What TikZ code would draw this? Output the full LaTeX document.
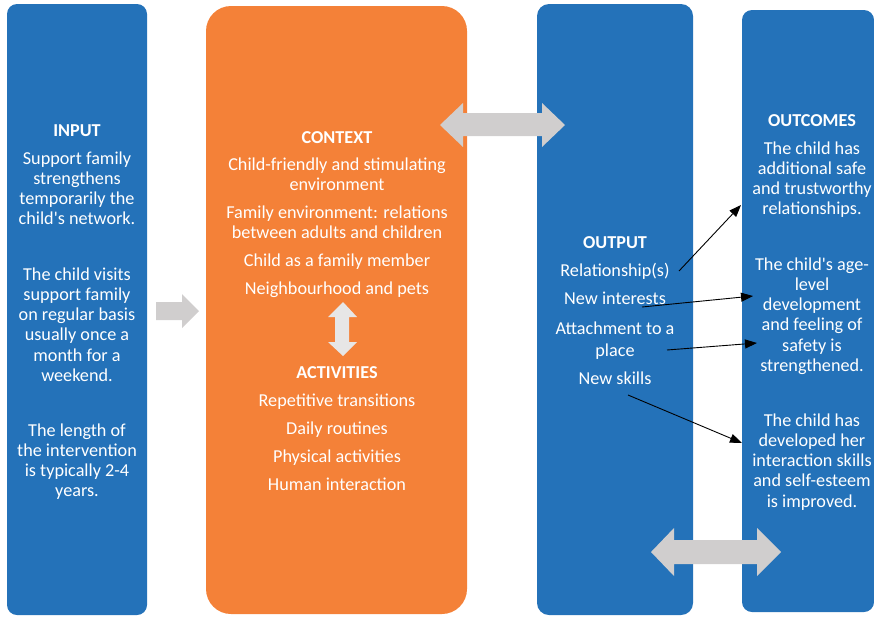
\documentclass[tikz,border=0pt]{standalone}
\usepackage{fontspec}
\setmainfont{Carlito}
\usetikzlibrary{arrows.meta}
\definecolor{boxblue}{RGB}{36,114,185}
\definecolor{boxorange}{RGB}{244,129,56}
\definecolor{arrgray}{RGB}{208,206,206}
\definecolor{arrlight}{RGB}{231,230,230}
\tikzset{
  panel/.style={inner sep=0pt, outer sep=0pt, draw=none},
  txt/.style={text=white, align=center, inner sep=0pt, anchor=north,
    font=\fontsize{18.2}{20.2}\selectfont},
  head/.style={txt, font=\fontsize{18.2}{20.2}\selectfont\bfseries},
  link/.style={draw=black, line width=0.9pt, -{Triangle[length=12pt,width=9pt]}}
}
\newcommand{\bl}[1]{\strut#1}
\newcommand{\ap}{\textquotesingle}
\begin{document}
\begin{tikzpicture}[x=1pt,y=-1pt]
\useasboundingbox (0,0) rectangle (874,616);
\clip (0,0) rectangle (874,616);
% panels
\node[panel, fill=boxblue, rounded corners=10pt, minimum width=140pt, minimum height=611pt] (input) at (77,309.5) {};
\node[panel, fill=boxorange, rounded corners=25pt, minimum width=261pt, minimum height=608pt] (context) at (336.5,310) {};
\node[panel, fill=boxblue, rounded corners=12pt, minimum width=156pt, minimum height=611pt] (output) at (615,309.5) {};
\node[panel, fill=boxblue, rounded corners=10pt, minimum width=132pt, minimum height=602pt] (outcomes) at (808,311) {};
% gray block arrows
\fill[arrgray] (156,302) -- (182,302) -- (182,294) -- (199,311) -- (182,328) -- (182,320) -- (156,320) -- cycle;
\fill[arrlight] (343,302) -- (357,317) -- (349,317) -- (349,342) -- (357,342) -- (343,356) -- (328,342) -- (335,342) -- (335,317) -- (328,317) -- cycle;
\fill[arrgray] (440,125) -- (463,103) -- (463,113) -- (542,113) -- (542,103) -- (565,125) -- (542,147) -- (542,136) -- (463,136) -- (463,147) -- cycle;
\fill[arrgray] (651,552) -- (674,528) -- (674,540) -- (757,540) -- (757,528) -- (781,552) -- (757,576) -- (757,564) -- (674,564) -- (674,576) -- cycle;
% INPUT texts
\node[head] (inh) at (77,122) {\bl{INPUT}};
\node[txt] (in1) at (77,150) {\bl{Support family}\\strengthens\\temporarily the\\child\ap s network.};
\node[txt] (in2) at (77,266) {\bl{The child visits}\\support family\\on regular basis\\usually once a\\month for a\\weekend.};
\node[txt] (in3) at (77,422) {\bl{The length of}\\the intervention\\is typically 2-4\\years.};
% CONTEXT texts
\node[head] (ch) at (337,129) {\bl{CONTEXT}};
\node[txt] (c1) at (337,156) {\bl{Child-friendly and stimulating}\\environment};
\node[txt] (c2) at (337,204) {\bl{Family environment: relations}\\between adults and children};
\node[txt] (c3) at (337,252) {\bl{Child as a family member}};
\node[txt] (c4) at (337,280) {\bl{Neighbourhood and pets}};
\node[head] (ah) at (337,364) {\bl{ACTIVITIES}};
\node[txt] (a1) at (337,392) {\bl{Repetitive transitions}};
\node[txt] (a2) at (337,420) {\bl{Daily routines}};
\node[txt] (a3) at (337,448) {\bl{Physical activities}};
\node[txt] (a4) at (337,476) {\bl{Human interaction}};
% OUTPUT texts
\node[head] (oh) at (615,234) {\bl{OUTPUT}};
\node[txt] (o1) at (615,262) {\bl{Relationship(s)}};
\node[txt] (o2) at (615,290) {\bl{New interests}};
\node[txt] (o3) at (615,320) {\bl{Attachment to a}\\[2pt]place};
\node[txt] (o4) at (615,370) {\bl{New skills}};
% OUTCOMES texts
\node[head] (uh) at (812,112) {\bl{OUTCOMES}};
\node[txt] (u1) at (812,140) {\bl{The child has}\\additional safe\\and trustworthy\\relationships.};
\node[txt] (u2) at (812,256) {\bl{The child\ap s age-}\\level\\development\\and feeling of\\safety is\\strengthened.};
\node[txt] (u3) at (812,412) {\bl{The child has}\\developed her\\interaction skills\\and self-esteem\\is improved.};
% black connectors
\coordinate (r1s) at (679,271); \coordinate (r1e) at (741,205);
\coordinate (r2s) at (642,307); \coordinate (r2e) at (753,296);
\coordinate (r3s) at (667,350); \coordinate (r3e) at (757,343);
\coordinate (r4s) at (628,395); \coordinate (r4e) at (742,443);
\draw[link] (r1s) -- (r1e);
\draw[link] (r2s) -- (r2e);
\draw[link] (r3s) -- (r3e);
\draw[link] (r4s) -- (r4e);
\end{tikzpicture}
\end{document}
